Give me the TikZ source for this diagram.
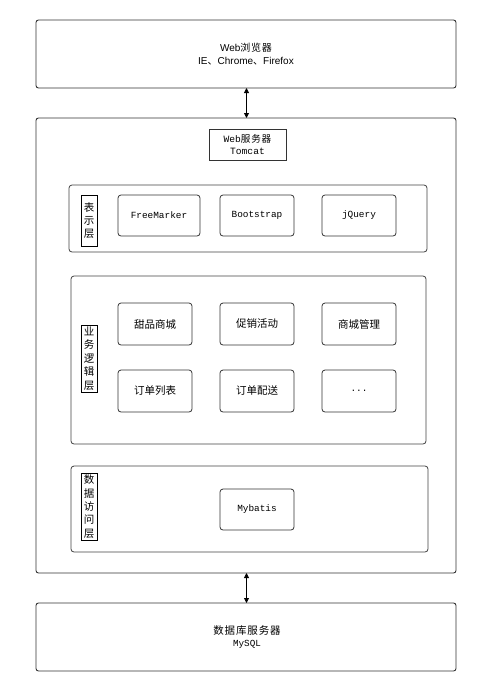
\documentclass[tikz,border=0pt]{standalone}
\usepackage{fontspec}
\setmainfont{Liberation Sans}
\newfontfamily\cjk{Noto Sans CJK SC}
\newfontfamily\monof{Liberation Mono}
\usetikzlibrary{arrows.meta}
\begin{document}
\begin{tikzpicture}[x=1pt,y=-1pt,
  outer/.style={draw=black!80,line width=0.9pt,rounded corners=2.5pt},
  layer/.style={draw=black!75,line width=0.8pt,rounded corners=3pt},
  item/.style={draw=black!80,line width=0.8pt,rounded corners=3pt},
  tag/.style={draw=black,line width=0.6pt},
  conn/.style={line width=0.8pt,{Triangle[length=5pt,width=5pt]}-{Triangle[length=5pt,width=5pt]}},
  lbl/.style={font=\cjk\fontsize{10.5}{13.4}\selectfont,align=center,inner sep=0pt},
  vlbl/.style={font=\cjk\fontsize{10.5}{13.4}\selectfont,align=center,inner sep=0pt},
  mono/.style={font=\monof\fontsize{9.4}{12}\selectfont}
]
\useasboundingbox (0,0) rectangle (494,681);
% top box
\draw[outer] (36,20) rectangle (456,88);
\node (browser) at (246,54) [align=center,inner sep=0pt,font=\fontsize{10}{13}\selectfont] {Web{\cjk\addfontfeature{LetterSpace=8} 浏览器}\\IE{\cjk 、}Chrome{\cjk 、}Firefox};
\coordinate (topB) at (246.5,88);
% big box
\draw[outer] (36,118) rectangle (456,573);
\coordinate (bigT) at (246.5,118);
\coordinate (bigB) at (246.5,573);
% Tomcat
\draw[tag,draw=black!80] (209,129) rectangle (286,160);
\node (tomcat) at (247.5,144.5) [align=center,inner sep=0pt,font=\monof\fontsize{9.6}{12.5}\selectfont] {Web{\cjk\addfontfeature{LetterSpace=8} 服务器}\\Tomcat};
% presentation layer
\draw[layer] (69,185) rectangle (427,252);
\draw[tag] (81,195) rectangle (97,246);
\node (t1) at (89,220.5) [vlbl] {表\\示\\层};
\draw[item] (118,195) rectangle (200,236);
\node (fm) at (159,215.5) [mono] {FreeMarker};
\draw[item] (220,195) rectangle (294,236);
\node (bs) at (257,215.5) [mono] {Bootstrap};
\draw[item] (322,195) rectangle (396,236);
\node (jq) at (359,215.5) [mono] {jQuery};
% business layer
\draw[layer] (71,276) rectangle (426,444);
\draw[tag] (81,325) rectangle (97,392);
\node (t2) at (89,358.5) [vlbl] {业\\务\\逻\\辑\\层};
\foreach \x/\t [count=\i] in {118/甜品商城,220/促销活动,322/商城管理}{
  \draw[item] (\x,303) rectangle (\x+74,345);
  \node (r1\i) at (\x+37,324) [lbl] {\t};
}
\foreach \x/\t [count=\i] in {118/订单列表,220/订单配送}{
  \draw[item] (\x,370) rectangle (\x+74,412);
  \node (r2\i) at (\x+37,391) [lbl] {\t};
}
\draw[item] (322,370) rectangle (396,412);
\node (r23) at (359,391) [mono] {...};
% data access layer
\draw[layer] (71,466) rectangle (428,552);
\draw[tag] (81,473) rectangle (97,540);
\node (t3) at (89,506.5) [vlbl] {数\\据\\访\\问\\层};
\draw[item] (220,489) rectangle (294,530);
\node (mb) at (257,509.5) [mono] {Mybatis};
% bottom box
\draw[outer] (36,603) rectangle (456,671);
\coordinate (dbT) at (246.5,603);
\node (db) at (247,637) [align=center,inner sep=0pt] {{\cjk\fontsize{10.5}{14}\selectfont\addfontfeature{LetterSpace=8}数据库服务器}\\{\monof\fontsize{9.3}{12}\selectfont MySQL}};
% connectors
\draw[conn] (topB) -- (bigT);
\draw[conn] (bigB) -- (dbT);
\end{tikzpicture}
\end{document}
